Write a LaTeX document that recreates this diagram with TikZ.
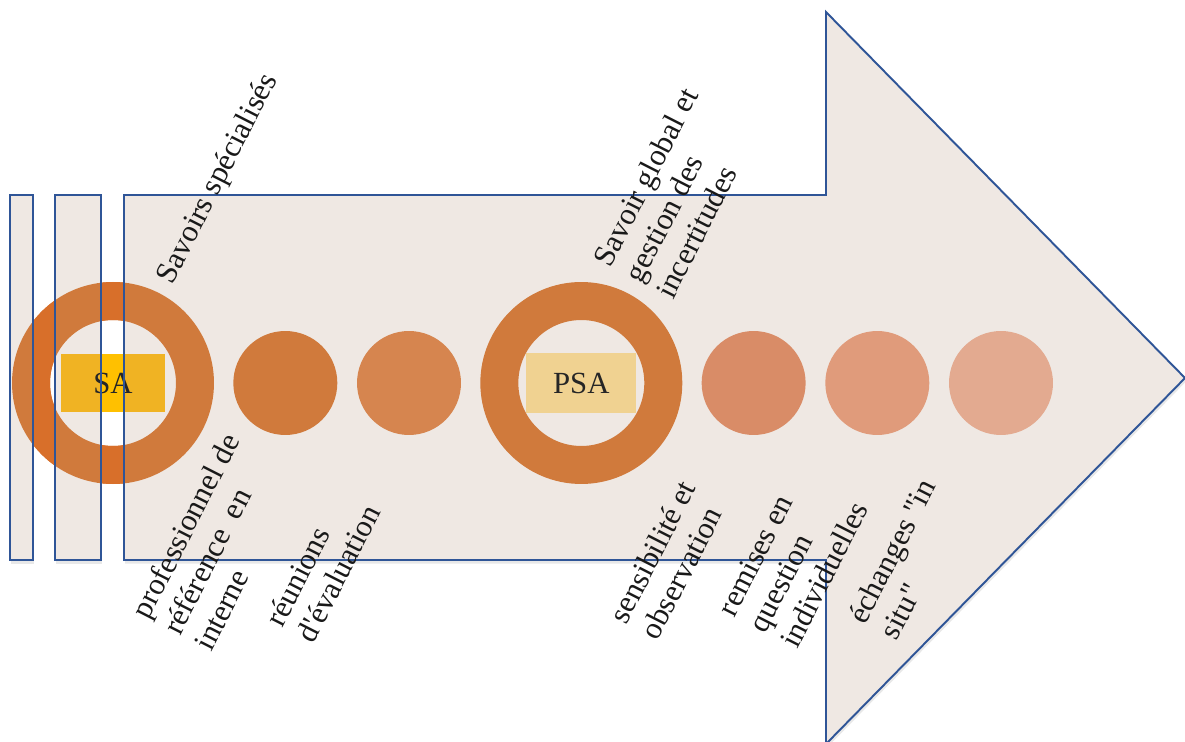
\documentclass[tikz,border=0pt]{standalone}
\usepackage{fontspec}
\setmainfont{Liberation Serif}[Ligatures=TeXOff]
\usetikzlibrary{positioning,shadows}
\definecolor{panelfill}{HTML}{EFE8E3}
\definecolor{edgeblue}{HTML}{2F5597}
\definecolor{ringorange}{HTML}{D07A3C}
\definecolor{gaporange}{HTML}{D86F2A}
\definecolor{dotA}{HTML}{D07A3C}
\definecolor{dotB}{HTML}{D6854F}
\definecolor{dotC}{HTML}{D98C67}
\definecolor{dotD}{HTML}{E09B7B}
\definecolor{dotE}{HTML}{E3AA90}
\definecolor{sagold}{HTML}{F0B323}
\definecolor{gapgold}{HTML}{FFC000}
\definecolor{psagold}{HTML}{F0D291}
\newcommand{\lblfont}{\fontsize{17.5}{20}\selectfont}
\tikzset{
  panel/.style={fill=panelfill, drop shadow={shadow xshift=0.6pt, shadow yshift=-2pt, opacity=0.18}},
  edge/.style={draw=edgeblue, line width=1.1pt},
  ring/.style={circle, draw=ringorange, line width=7.6mm, minimum size=32.8mm, inner sep=0pt},
  dot/.style={circle, minimum size=20.8mm, inner sep=0pt},
  tag/.style={minimum width=21mm, minimum height=11.6mm, inner sep=0pt, font=\lblfont, text=black!85},
  lbl/.style={rotate=63, anchor=north west, inner sep=0pt, align=left, font=\lblfont, text=black!90},
}

\begin{document}
\begin{tikzpicture}[x=0.02cm, y=-0.02cm, node distance=0.38cm]
  \useasboundingbox (0,0) rectangle (1185,742);

  % background bars and the big arrow
  \foreach \a/\b in {10/33, 55/101}
    \path[panel] (\a,195) rectangle (\b,560);
  \path[panel] (124,195) -- (826,195) -- (826,12) -- (1185,378) -- (826,744) -- (826,560) -- (124,560) -- cycle;

  % rings and dots
  \node[ring] (sa) at (113,383) {};
  \node[dot, fill=dotA] (dot1) [right=of sa] {};
  \node[dot, fill=dotB] (dot2) [right=of dot1] {};
  \node[ring] (psa) [right=of dot2] {};
  \node[dot, fill=dotC] (dot3) [right=of psa] {};
  \node[dot, fill=dotD] (dot4) [right=of dot3] {};
  \node[dot, fill=dotE] (dot5) [right=of dot4] {};

  \node[tag, fill=sagold] (satag) at (sa) {SA};
  \node[tag, fill=psagold, minimum width=22mm, minimum height=12mm] (psatag) at (psa) {PSA};

  % brighter colours between the bars
  \begin{scope}
    \clip (33,150) rectangle (55,620) (101,150) rectangle (124,620);
    \draw[gaporange, line width=7.6mm] (sa.center) circle (82);
    \fill[gapgold] (satag.south west) rectangle (satag.north east);
    \node[tag] (satagb) at (satag) {SA};
  \end{scope}

  % outlines on top
  \foreach \a/\b in {10/33, 55/101}
    \draw[edge] (\a,195) rectangle (\b,560);
  \draw[edge] (124,195) -- (826,195) -- (826,12) -- (1185,378) -- (826,744) -- (826,560) -- (124,560) -- cycle;

  % labels
  \node[lbl] (spec) at (153,276) {Savoirs spécialisés};
  \node[lbl] (glob) at (591,259) {Savoir global et\\gestion des\\incertitudes};
  \node[lbl] (prof) at (129,611) {professionnel de\\référence\ \ en\\interne};
  \node[lbl] (reun) at (263,619) {réunions\\d'évaluation};
  \node[lbl] (sens) at (607,616) {sensibilité et\\observation};
  \node[lbl] (remi) at (716,609) {remises en\\question\\individuelles};
  \node[lbl] (insi) at (846,616) {échanges "in\\situ"};
\end{tikzpicture}
\end{document}
